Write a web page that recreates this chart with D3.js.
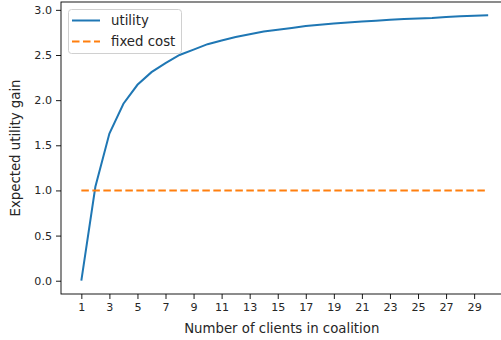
<!DOCTYPE html>
<html>
<head>
<meta charset="utf-8">
<script src="https://cdn.jsdelivr.net/npm/d3@7"></script>
<style>
    body { margin: 0; background: #fff; }
    svg { display: block; font-family: 'DejaVu Sans', sans-serif; }
    .tick text { font-size: 11.1px; fill: #262626; }
</style>
</head>
<body>
<div id="chart"></div>
<script>
// clients in coalition
const clients = d3.range(1, 31);
// expected utility gain
const utility = [0, 1.04, 1.63, 1.96, 2.17, 2.31, 2.41, 2.50, 2.56, 2.62,
    2.66, 2.70, 2.73, 2.76, 2.78, 2.80, 2.82, 2.835, 2.85, 2.86,
    2.87, 2.88, 2.89, 2.90, 2.905, 2.91, 2.92, 2.93, 2.935, 2.94];
const fixedCost = clients.map(() => 1.0);
const xTicks = d3.range(1, 30, 2);
const yTicks = [0, 0.5, 1, 1.5, 2, 2.5, 3];

const width = 501, height = 340;
const margin = {top: 2, right: -7.5, bottom: 46, left: 61};
const labelSize = 13.3;

const svg = d3.select('#chart').append('svg')
    .attr('width', width)
    .attr('height', height);

const x = d3.scaleLinear()
    .domain([1 - 1.45, 30 + 1.45])
    .range([margin.left, width - margin.right]);

const yMax = d3.max(utility), yPad = (yMax - 0) * 0.05;
const y = d3.scaleLinear()
    .domain([0 - yPad, yMax + yPad])
    .range([height - margin.bottom, margin.top]);

const line = d3.line()
    .x((d, i) => x(clients[i]))
    .y(d => y(d));

// series
svg.append('path')
    .datum(utility)
    .attr('fill', 'none')
    .attr('stroke', '#1f77b4')
    .attr('stroke-width', 2)
    .attr('d', line);

svg.append('path')
    .datum(fixedCost)
    .attr('fill', 'none')
    .attr('stroke', '#ff7f0e')
    .attr('stroke-width', 2)
    .attr('stroke-dasharray', '7.5,3.5')
    .attr('d', line);

// axes
const xAxis = svg.append('g')
    .attr('transform', `translate(0,${height - margin.bottom})`)
    .call(d3.axisBottom(x).tickValues(xTicks).tickSize(5).tickPadding(4).tickSizeOuter(0));

const yAxis = svg.append('g')
    .attr('transform', `translate(${margin.left},0)`)
    .call(d3.axisLeft(y).tickValues(yTicks).tickFormat(d3.format('.1f')).tickSize(5).tickPadding(4).tickSizeOuter(0));

[xAxis, yAxis].forEach(a => {
    a.select('.domain').remove();
    a.selectAll('.tick line').attr('stroke', '#000').attr('stroke-width', 0.9);
    a.selectAll('.tick text').attr('font-family', 'DejaVu Sans');
});

// spines
const x0 = margin.left, x1 = width - margin.right;
const y0 = height - margin.bottom, y1 = margin.top;
svg.append('rect')
    .attr('x', x0).attr('y', y1)
    .attr('width', x1 - x0).attr('height', y0 - y1)
    .attr('fill', 'none')
    .attr('stroke', '#000')
    .attr('stroke-width', 0.9);

// axis labels
svg.append('text')
    .attr('x', (x0 + x1) / 2 - 3)
    .attr('y', 333)
    .attr('text-anchor', 'middle')
    .attr('font-size', labelSize)
    .attr('fill', '#262626')
    .text('Number of clients in coalition');

svg.append('text')
    .attr('transform', `translate(20,${(y0 + y1) / 2}) rotate(-90)`)
    .attr('text-anchor', 'middle')
    .attr('font-size', labelSize)
    .attr('fill', '#262626')
    .text('Expected utility gain');

// legend
const legend = svg.append('g');
legend.append('rect')
    .attr('x', 68.5).attr('y', 9.5)
    .attr('width', 113).attr('height', 44)
    .attr('rx', 3)
    .attr('fill', '#fff')
    .attr('fill-opacity', 0.8)
    .attr('stroke', '#d0d0d0');

const items = [
    {label: 'utility', color: '#1f77b4', dash: null},
    {label: 'fixed cost', color: '#ff7f0e', dash: '7.5,3.5'}
];
items.forEach((it, i) => {
    const ly = 20.5 + i * 21;
    legend.append('line')
        .attr('x1', 72).attr('x2', 100)
        .attr('y1', ly).attr('y2', ly)
        .attr('stroke', it.color)
        .attr('stroke-width', 2)
        .attr('stroke-dasharray', it.dash);
    legend.append('text')
        .attr('x', 111)
        .attr('y', ly + 4.7)
        .attr('font-size', labelSize)
        .attr('fill', '#262626')
        .text(it.label);
});
</script>
</body>
</html>
